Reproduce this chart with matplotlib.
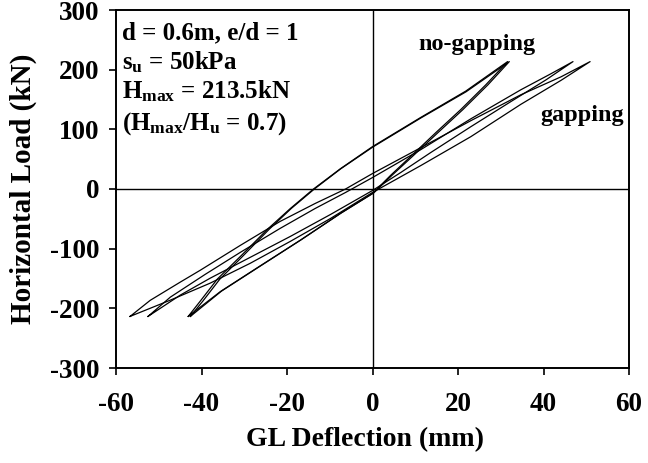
import matplotlib
matplotlib.use("Agg")
import matplotlib.pyplot as plt

plt.rcParams['font.family'] = ['Liberation Serif', 'DejaVu Serif']
plt.rcParams['font.weight'] = 'bold'
plt.rcParams['mathtext.fontset'] = 'custom'
plt.rcParams['mathtext.rm'] = 'Liberation Serif:bold'
plt.rcParams['mathtext.it'] = 'Liberation Serif:bold'
plt.rcParams['mathtext.bf'] = 'Liberation Serif:bold'

# --- no-gapping loop, cycle 1 (reloading branch then unloading branch) ---
ng1_up_x = [-43.1, -40.3, -36.3, -30.9, -24.6, -19.2, -13.8, -7.5, 0.0, 11.3, 21.8, 31.6]
ng1_up_y = [-213.5, -188, -151, -113, -67.7, -32.6, 0.0, 34, 71, 120, 164, 213.5]
ng1_dn_x = [31.6, 26.5, 20.6, 14.8, 8.9, 4.2, 0.0, -7.5, -16.9, -26.3, -35.6, -43.1]
ng1_dn_y = [213.5, 174.6, 132.8, 94.4, 54.3, 22.6, -7.5, -41, -86, -129, -172, -213.5]

# --- no-gapping loop, cycle 2 ---
ng2_up_x = [-42.6, -39.7, -35.7, -30.4, -24.2, -19.0, -13.6, -7.4, 0.0, 11.3, 21.9, 32.0]
ng2_up_y = [-213.5, -188, -151, -113, -67.7, -32.6, 0.0, 34, 70, 119, 163, 213.5]
ng2_dn_x = [32.0, 27.0, 21.1, 15.3, 9.3, 4.5, 0.3, -7.3, -16.7, -26.0, -35.3, -42.6]
ng2_dn_y = [213.5, 174.6, 132.8, 94.4, 54.3, 22.6, -6.5, -40, -85, -128, -171, -213.5]

# --- gapping loop A (inner) ---
ga_up_x = [-52.5, -47.3, -39.1, -30.9, -21.6, -13.4, -6.3, 0.0, 11.3, 23.0, 34.7, 41.7, 46.9]
ga_up_y = [-213.5, -181.3, -142.9, -106.1, -66.0, -32.6, -5.8, 19.2, 66.0, 117.6, 166.3, 193.0, 213.5]
ga_dn_x = [46.9, 40.6, 32.3, 23.0, 13.6, 6.6, 0.0, -9.8, -19.2, -28.6, -38.0, -45.0, -52.5]
ga_dn_y = [213.5, 183.0, 146.2, 104.4, 61.0, 27.6, -2.5, -42.6, -79.4, -114.5, -149.6, -178.0, -213.5]

# --- gapping loop B (outer) ---
gb_up_x = [-56.7, -52.0, -45.0, -40.3, -30.9, -21.6, -13.4, -6.3, 0.0, 11.3, 23.0, 34.7, 44.1, 50.9]
gb_up_y = [-213.5, -186.6, -156.2, -136.2, -94.4, -54.3, -24.2, 0.0, 25.9, 69.3, 114.5, 157.9, 188.0, 213.5]
gb_dn_x = [50.9, 44.1, 34.7, 23.0, 11.3, 4.2, 0.0, -9.8, -19.2, -28.6, -38.0, -47.3, -56.7]
gb_dn_y = [213.5, 182.1, 141.9, 87.7, 39.3, 10.9, -5.8, -49.3, -87.7, -124.5, -157.9, -186.3, -213.5]

x_ticks = [-60, -40, -20, 0, 20, 40, 60]
y_ticks = [-300, -200, -100, 0, 100, 200, 300]

fig = plt.figure(figsize=(6.48, 4.63), dpi=100)
ax = fig.add_axes([116 / 648, 1 - 368 / 463, (629 - 116) / 648, (368 - 10) / 463])

ax.axhline(0, color='black', lw=1.0, zorder=1)
ax.axvline(0, color='black', lw=1.0, zorder=1)

loops = [
    (ng1_up_x, ng1_up_y, ng1_dn_x, ng1_dn_y),
    (ng2_up_x, ng2_up_y, ng2_dn_x, ng2_dn_y),
    (ga_up_x, ga_up_y, ga_dn_x, ga_dn_y),
    (gb_up_x, gb_up_y, gb_dn_x, gb_dn_y),
]
for ux, uy, dx, dy in loops:
    ax.plot(ux + dx[1:], uy + dy[1:], color='black', lw=0.9, zorder=2)

ax.set_xlim(-60, 60)
ax.set_ylim(-300, 300)
ax.set_xticks(x_ticks)
ax.set_yticks(y_ticks)
ax.set_xticklabels([str(v) for v in x_ticks])
ax.set_yticklabels([str(v) for v in y_ticks])
ax.tick_params(axis='x', direction='out', length=5, width=1.2, pad=12, labelsize=19.5)
ax.tick_params(axis='y', direction='out', length=5, width=1.2, pad=7, labelsize=19.5)
for s in ax.spines.values():
    s.set_linewidth(1.4)

ax.set_xlabel('GL Deflection (mm)', fontsize=20, fontweight='bold')
ax.xaxis.set_label_coords(0.485, -0.165)
ax.set_ylabel('Horizontal Load (kN)', fontsize=21, fontweight='bold')
ax.yaxis.set_label_coords(-0.154, 0.5)

info = [
    ('d = 0.6m, e/d = 1', 0.919),
    (r'$\mathregular{s_u}$ = 50kPa', 0.835),
    (r'$\mathregular{H_{max}}$ = 213.5kN', 0.754),
    (r'($\mathregular{H_{max}/H_u}$ = 0.7)', 0.665),
]
for txt, yb in info:
    ax.text(0.012, yb, txt, transform=ax.transAxes, va='baseline', ha='left',
            fontsize=18, fontweight='bold')

ax.text(24.5, 233, 'no-gapping', ha='center', va='baseline', fontsize=17.5, fontweight='bold')
ax.text(49.0, 114, 'gapping', ha='center', va='baseline', fontsize=17.5, fontweight='bold')

fig.savefig('out.png', dpi=100)
